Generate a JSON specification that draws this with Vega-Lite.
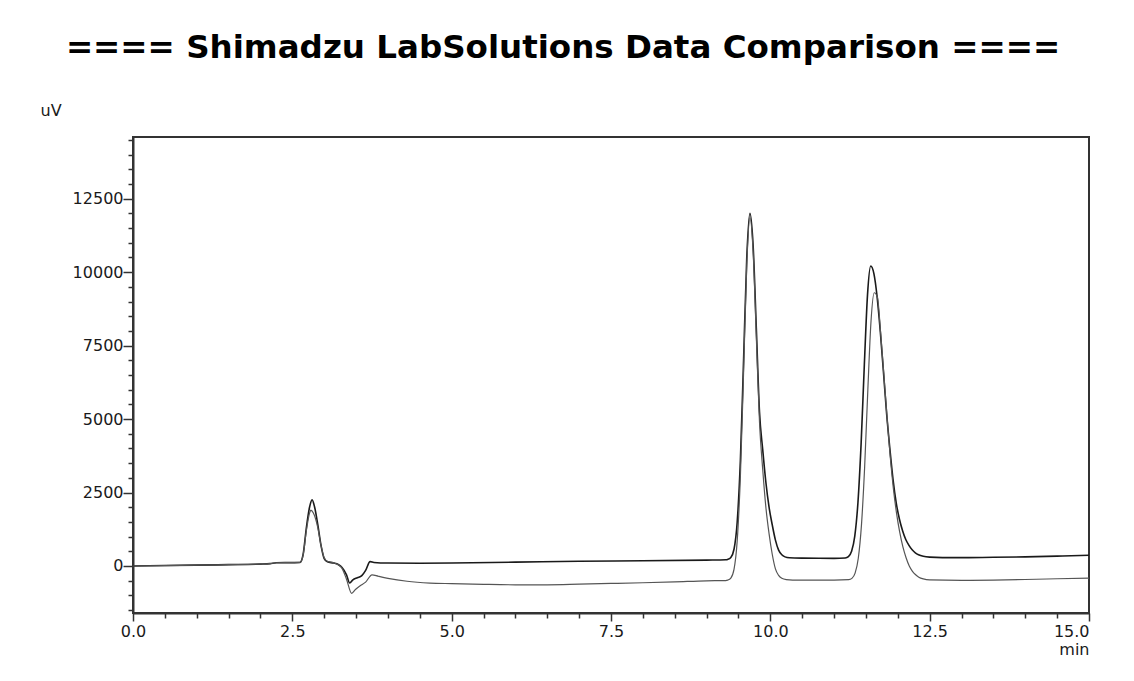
{
"$schema": "https://vega.github.io/schema/vega-lite/v6.json",
"width": 956, "height": 476,
"autosize": "none",
"padding": {"left": 133, "top": 137, "right": 45, "bottom": 68},
"background": "white",
"title": {"text": "==== Shimadzu LabSolutions Data Comparison ====", "font": "DejaVu Sans", "fontSize": 32.5, "fontWeight": "bold", "color": "#000000", "anchor": "middle", "dx": -48, "offset": 12, "baseline": "alphabetic"},
"config": {
  "view": {"stroke": "#333333", "strokeWidth": 2},
  "axis": {"grid": false, "domainColor": "#333333", "domainWidth": 2, "tickColor": "#333333", "tickWidth": 1.5, "labelFont": "DejaVu Sans", "labelFontSize": 16, "labelColor": "#1a1a1a", "titleFont": "DejaVu Sans", "titleFontSize": 16, "titleFontWeight": "normal", "titleColor": "#1a1a1a", "labelOverlap": false, "labelFlush": false, "labelBound": false}
},
"data": {"values": [
{"t":0,"v":0,"s":"A"},{"t":0.5,"v":15,"s":"A"},{"t":1.0,"v":30,"s":"A"},{"t":1.5,"v":45,"s":"A"},{"t":2.0,"v":65,"s":"A"},{"t":2.15,"v":80,"s":"A"},{"t":2.25,"v":110,"s":"A"},{"t":2.5,"v":115,"s":"A"},{"t":2.62,"v":120,"s":"A"},{"t":2.67,"v":400,"s":"A"},{"t":2.72,"v":1300,"s":"A"},{"t":2.77,"v":2000,"s":"A"},{"t":2.81,"v":2250,"s":"A"},{"t":2.85,"v":2000,"s":"A"},{"t":2.9,"v":1400,"s":"A"},{"t":2.95,"v":700,"s":"A"},{"t":3.0,"v":250,"s":"A"},{"t":3.05,"v":140,"s":"A"},{"t":3.15,"v":100,"s":"A"},{"t":3.22,"v":50,"s":"A"},{"t":3.28,"v":-50,"s":"A"},{"t":3.35,"v":-300,"s":"A"},{"t":3.4,"v":-580,"s":"A"},{"t":3.45,"v":-470,"s":"A"},{"t":3.52,"v":-400,"s":"A"},{"t":3.59,"v":-330,"s":"A"},{"t":3.65,"v":-150,"s":"A"},{"t":3.72,"v":150,"s":"A"},{"t":3.78,"v":120,"s":"A"},{"t":4.0,"v":100,"s":"A"},{"t":4.5,"v":95,"s":"A"},{"t":5.0,"v":100,"s":"A"},{"t":6.0,"v":130,"s":"A"},{"t":7.0,"v":160,"s":"A"},{"t":8.0,"v":180,"s":"A"},{"t":9.0,"v":200,"s":"A"},{"t":9.3,"v":210,"s":"A"},{"t":9.33,"v":223,"s":"A"},{"t":9.38,"v":290,"s":"A"},{"t":9.43,"v":570,"s":"A"},{"t":9.48,"v":1490,"s":"A"},{"t":9.53,"v":3590,"s":"A"},{"t":9.58,"v":6990,"s":"A"},{"t":9.63,"v":10480,"s":"A"},{"t":9.68,"v":12000,"s":"A"},{"t":9.73,"v":10900,"s":"A"},{"t":9.78,"v":8100,"s":"A"},{"t":9.83,"v":5240,"s":"A"},{"t":9.88,"v":3970,"s":"A"},{"t":9.93,"v":2850,"s":"A"},{"t":9.98,"v":2000,"s":"A"},{"t":10.03,"v":1400,"s":"A"},{"t":10.08,"v":880,"s":"A"},{"t":10.13,"v":540,"s":"A"},{"t":10.18,"v":380,"s":"A"},{"t":10.23,"v":310,"s":"A"},{"t":10.3,"v":280,"s":"A"},{"t":10.5,"v":268,"s":"A"},{"t":11.0,"v":260,"s":"A"},{"t":11.175,"v":274,"s":"A"},{"t":11.225,"v":320,"s":"A"},{"t":11.275,"v":499,"s":"A"},{"t":11.325,"v":1016,"s":"A"},{"t":11.375,"v":2170,"s":"A"},{"t":11.425,"v":4190,"s":"A"},{"t":11.475,"v":6850,"s":"A"},{"t":11.525,"v":9235,"s":"A"},{"t":11.575,"v":10210,"s":"A"},{"t":11.625,"v":9950,"s":"A"},{"t":11.675,"v":9165,"s":"A"},{"t":11.725,"v":7990,"s":"A"},{"t":11.775,"v":6600,"s":"A"},{"t":11.825,"v":5175,"s":"A"},{"t":11.875,"v":4000,"s":"A"},{"t":11.925,"v":2950,"s":"A"},{"t":11.975,"v":2150,"s":"A"},{"t":12.025,"v":1600,"s":"A"},{"t":12.075,"v":1200,"s":"A"},{"t":12.125,"v":900,"s":"A"},{"t":12.175,"v":700,"s":"A"},{"t":12.225,"v":550,"s":"A"},{"t":12.275,"v":450,"s":"A"},{"t":12.325,"v":385,"s":"A"},{"t":12.4,"v":330,"s":"A"},{"t":12.5,"v":300,"s":"A"},{"t":12.7,"v":285,"s":"A"},{"t":13.0,"v":285,"s":"A"},{"t":13.5,"v":295,"s":"A"},{"t":14.0,"v":310,"s":"A"},{"t":14.5,"v":335,"s":"A"},{"t":15.0,"v":365,"s":"A"},
{"t":0,"v":0,"s":"B"},{"t":0.5,"v":15,"s":"B"},{"t":1.0,"v":30,"s":"B"},{"t":1.5,"v":45,"s":"B"},{"t":2.0,"v":65,"s":"B"},{"t":2.15,"v":80,"s":"B"},{"t":2.25,"v":110,"s":"B"},{"t":2.5,"v":115,"s":"B"},{"t":2.62,"v":120,"s":"B"},{"t":2.67,"v":380,"s":"B"},{"t":2.72,"v":1200,"s":"B"},{"t":2.77,"v":1800,"s":"B"},{"t":2.79,"v":1900,"s":"B"},{"t":2.83,"v":1800,"s":"B"},{"t":2.9,"v":1300,"s":"B"},{"t":2.95,"v":700,"s":"B"},{"t":3.0,"v":280,"s":"B"},{"t":3.05,"v":160,"s":"B"},{"t":3.15,"v":110,"s":"B"},{"t":3.22,"v":40,"s":"B"},{"t":3.28,"v":-80,"s":"B"},{"t":3.35,"v":-450,"s":"B"},{"t":3.43,"v":-930,"s":"B"},{"t":3.49,"v":-800,"s":"B"},{"t":3.56,"v":-680,"s":"B"},{"t":3.65,"v":-550,"s":"B"},{"t":3.75,"v":-300,"s":"B"},{"t":3.85,"v":-350,"s":"B"},{"t":4.0,"v":-420,"s":"B"},{"t":4.3,"v":-520,"s":"B"},{"t":4.66,"v":-580,"s":"B"},{"t":5.0,"v":-600,"s":"B"},{"t":5.5,"v":-625,"s":"B"},{"t":6.0,"v":-640,"s":"B"},{"t":6.5,"v":-640,"s":"B"},{"t":7.0,"v":-620,"s":"B"},{"t":7.5,"v":-595,"s":"B"},{"t":8.0,"v":-570,"s":"B"},{"t":8.5,"v":-540,"s":"B"},{"t":9.0,"v":-505,"s":"B"},{"t":9.3,"v":-495,"s":"B"},{"t":9.33,"v":-480,"s":"B"},{"t":9.38,"v":-410,"s":"B"},{"t":9.43,"v":-115,"s":"B"},{"t":9.48,"v":850,"s":"B"},{"t":9.53,"v":3040,"s":"B"},{"t":9.58,"v":6590,"s":"B"},{"t":9.63,"v":10240,"s":"B"},{"t":9.68,"v":11850,"s":"B"},{"t":9.73,"v":10700,"s":"B"},{"t":9.78,"v":7800,"s":"B"},{"t":9.83,"v":4900,"s":"B"},{"t":9.88,"v":3300,"s":"B"},{"t":9.93,"v":2000,"s":"B"},{"t":9.98,"v":1100,"s":"B"},{"t":10.03,"v":400,"s":"B"},{"t":10.08,"v":-100,"s":"B"},{"t":10.13,"v":-320,"s":"B"},{"t":10.18,"v":-420,"s":"B"},{"t":10.25,"v":-465,"s":"B"},{"t":10.35,"v":-480,"s":"B"},{"t":11.0,"v":-480,"s":"B"},{"t":11.23,"v":-466,"s":"B"},{"t":11.28,"v":-421,"s":"B"},{"t":11.33,"v":-245,"s":"B"},{"t":11.38,"v":263,"s":"B"},{"t":11.43,"v":1400,"s":"B"},{"t":11.48,"v":3380,"s":"B"},{"t":11.53,"v":6000,"s":"B"},{"t":11.58,"v":8340,"s":"B"},{"t":11.63,"v":9300,"s":"B"},{"t":11.68,"v":9150,"s":"B"},{"t":11.73,"v":7950,"s":"B"},{"t":11.78,"v":6550,"s":"B"},{"t":11.83,"v":5100,"s":"B"},{"t":11.88,"v":3750,"s":"B"},{"t":11.93,"v":2650,"s":"B"},{"t":11.98,"v":1800,"s":"B"},{"t":12.03,"v":1150,"s":"B"},{"t":12.08,"v":650,"s":"B"},{"t":12.13,"v":280,"s":"B"},{"t":12.18,"v":0,"s":"B"},{"t":12.23,"v":-180,"s":"B"},{"t":12.28,"v":-300,"s":"B"},{"t":12.33,"v":-380,"s":"B"},{"t":12.4,"v":-440,"s":"B"},{"t":12.5,"v":-475,"s":"B"},{"t":13.0,"v":-490,"s":"B"},{"t":13.5,"v":-480,"s":"B"},{"t":14.0,"v":-460,"s":"B"},{"t":14.5,"v":-435,"s":"B"},{"t":15.0,"v":-410,"s":"B"}
]},
"mark": {"type": "line", "interpolate": "monotone"},
"encoding": {
  "x": {"field": "t", "type": "quantitative", "scale": {"domain": [0, 15], "nice": false, "zero": false},
    "axis": {"title": "min", "titleAnchor": "end", "titlePadding": 2, "format": ".1f",
      "values": [0,0.5,1,1.5,2,2.5,3,3.5,4,4.5,5,5.5,6,6.5,7,7.5,8,8.5,9,9.5,10,10.5,11,11.5,12,12.5,13,13.5,14,14.5,15],
      "labelExpr": "datum.value % 2.5 === 0 ? datum.label : ''",
      "labelAlign": {"condition": {"test": "datum.value === 15", "value": "right"}, "value": "center"},
      "tickSize": {"condition": {"test": "datum.value % 2.5 === 0", "value": 8}, "value": 5},
      "labelPadding": 2}},
  "y": {"field": "v", "type": "quantitative", "scale": {"domain": [-1600, 14600], "nice": false, "zero": false},
    "axis": {"title": "uV", "titleAngle": 0, "titleX": -93, "titleY": -22, "titleAlign": "left", "titleBaseline": "alphabetic", "format": "d",
      "values": [-1500,-1000,-500,0,500,1000,1500,2000,2500,3000,3500,4000,4500,5000,5500,6000,6500,7000,7500,8000,8500,9000,9500,10000,10500,11000,11500,12000,12500,13000,13500,14000,14500],
      "labelExpr": "datum.value % 2500 === 0 ? datum.label : ''",
      "tickSize": {"condition": {"test": "datum.value % 2500 === 0", "value": 10}, "value": 5},
      "labelPadding": 0}},
  "color": {"field": "s", "type": "nominal", "scale": {"domain": ["A", "B"], "range": ["#1a1a1a", "#555555"]}, "legend": null},
  "strokeWidth": {"field": "s", "type": "nominal", "scale": {"domain": ["A", "B"], "range": [1.6, 1.2]}, "legend": null}
}
}
